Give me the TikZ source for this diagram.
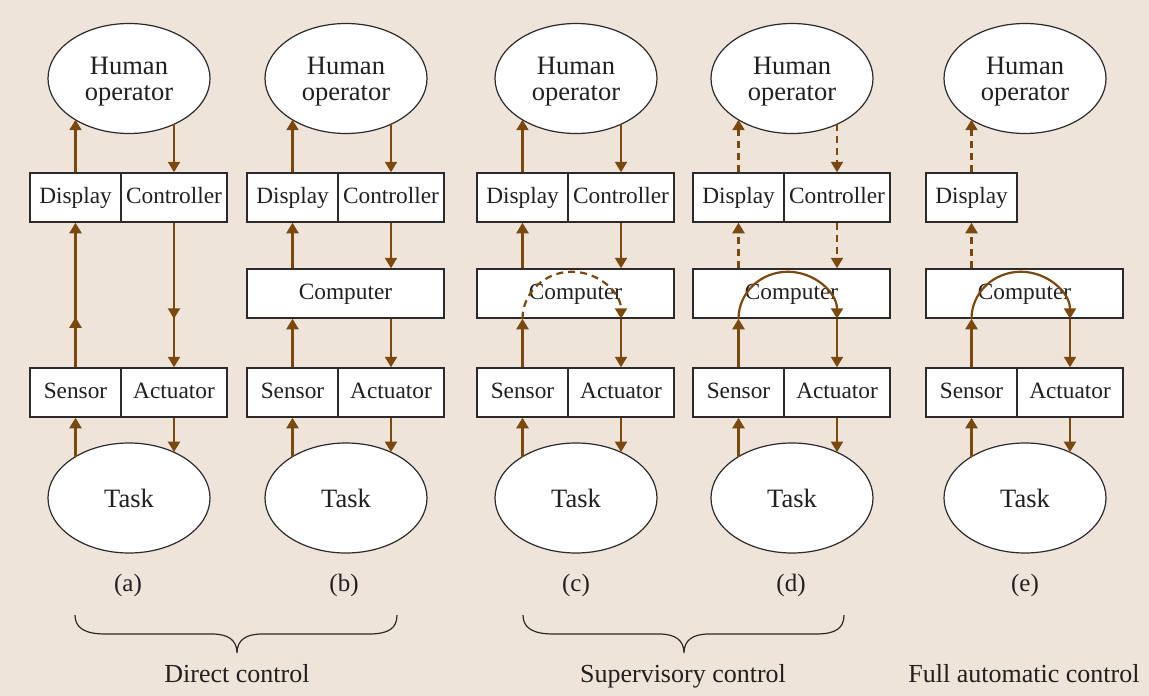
\documentclass[tikz,border=0pt]{standalone}
\usepackage{fontspec}
\setmainfont{Liberation Serif}
\usetikzlibrary{shapes.geometric,arrows.meta}
\definecolor{bg}{RGB}{238,228,217}
\definecolor{brn}{RGB}{123,72,14}
\definecolor{lgray}{RGB}{45,42,42}
\definecolor{txt}{RGB}{35,31,32}
\newcommand{\hop}{\rule{0pt}{24pt}Human\\operator}
\tikzset{
  ell/.style={ellipse, draw=lgray, line width=1.2pt, fill=white, minimum width=162pt, minimum height=110pt, inner sep=0pt, align=center, text=txt, font=\fontsize{26.5}{26}\selectfont},
  bx/.style={rectangle, draw=lgray, line width=1.5pt, fill=white, minimum height=49pt, inner sep=0pt, text height=17pt, text depth=5pt, text=txt, font=\fontsize{23.3}{26}\selectfont},
  bxs/.style={bx, minimum width=91pt},
  bxl/.style={bx, minimum width=106pt},
  bxw/.style={bx, minimum width=197pt},
  arr/.style={draw=brn, line width=2.2pt, -{Triangle[width=12pt,length=10.5pt]}},
  dsh/.style={dash pattern=on 7pt off 5pt},
  brc/.style={draw=lgray, line width=1.2pt},
  lbl/.style={text=txt, anchor=base, font=\fontsize{25}{28}\selectfont},
  captext/.style={text=txt, anchor=base, font=\fontsize{26}{28}\selectfont}
}
\begin{document}
\begin{tikzpicture}[x=1pt,y=-1pt]
\fill[bg] (0,0) rectangle (1149,696);
\useasboundingbox (0,0) rectangle (1149,696);

% ---------- column (a), L=30
\node[ell] (h1) at (129,78.5) {\hop};
\node[bxs] (d1) at (75.5,197.5) {Display};
\node[bxl] (c1) at (174,197.5) {Controller};
\node[bxs] (s1) at (75.5,392.5) {Sensor};
\node[bxl] (a1) at (174,392.5) {Actuator};
\node[ell] (t1) at (129,498) {Task};
\draw[arr] (d1.north) -- (d1.north |- h1.217);
\draw[arr] (c1.north |- h1.315) -- (c1.north);
\draw[arr] (s1.north) -- (d1.south);
\draw[arr] (s1.north) -- ++(0,-50);
\draw[arr] (c1.south) -- (a1.north);
\draw[arr] (c1.south) -- ++(0,96);
\draw[arr] (s1.south |- t1.143) -- (s1.south);
\draw[arr] (a1.south) -- (a1.south |- t1.45);
\node[lbl] (la) at (128,591) {(a)};

% ---------- column (b), L=247
\node[ell] (h2) at (346,78.5) {\hop};
\node[bxs] (d2) at (292.5,197.5) {Display};
\node[bxl] (c2) at (391,197.5) {Controller};
\node[bxw] (p2) at (345.5,293.5) {Computer};
\node[bxs] (s2) at (292.5,392.5) {Sensor};
\node[bxl] (a2) at (391,392.5) {Actuator};
\node[ell] (t2) at (346,498) {Task};
\draw[arr] (d2.north) -- (d2.north |- h2.217);
\draw[arr] (c2.north |- h2.315) -- (c2.north);
\draw[arr] (d2.south |- p2.north) -- (d2.south);
\draw[arr] (c2.south) -- (c2.south |- p2.north);
\draw[arr] (s2.north) -- (s2.north |- p2.south);
\draw[arr] (a2.north |- p2.south) -- (a2.north);
\draw[arr] (s2.south |- t2.143) -- (s2.south);
\draw[arr] (a2.south) -- (a2.south |- t2.45);
\node[lbl] (lb) at (344,591) {(b)};

% ---------- column (c), L=477
\node[ell] (h3) at (576,78.5) {\hop};
\node[bxs] (d3) at (522.5,197.5) {Display};
\node[bxl] (c3) at (621,197.5) {Controller};
\node[bxw] (p3) at (575.5,293.5) {Computer};
\node[bxs] (s3) at (522.5,392.5) {Sensor};
\node[bxl] (a3) at (621,392.5) {Actuator};
\node[ell] (t3) at (576,498) {Task};
\draw[arr] (d3.north) -- (d3.north |- h3.217);
\draw[arr] (c3.north |- h3.315) -- (c3.north);
\draw[arr] (d3.south |- p3.north) -- (d3.south);
\draw[arr] (c3.south) -- (c3.south |- p3.north);
\draw[arr] (s3.north) -- (s3.north |- p3.south);
\draw[arr] (a3.north |- p3.south) -- (a3.north);
\draw[arr] (s3.south |- t3.143) -- (s3.south);
\draw[arr] (a3.south) -- (a3.south |- t3.45);
\draw[arr,dsh] (s3.north |- p3.south) arc[start angle=180, end angle=0, x radius=49.25pt, y radius=47pt];
\node[lbl] (lc) at (576,591) {(c)};

% ---------- column (d), L=693
\node[ell] (h4) at (792,78.5) {\hop};
\node[bxs] (d4) at (738.5,197.5) {Display};
\node[bxl] (c4) at (837,197.5) {Controller};
\node[bxw] (p4) at (791.5,293.5) {Computer};
\node[bxs] (s4) at (738.5,392.5) {Sensor};
\node[bxl] (a4) at (837,392.5) {Actuator};
\node[ell] (t4) at (792,498) {Task};
\draw[arr,dsh] (d4.north) -- (d4.north |- h4.217);
\draw[arr,dsh] (c4.north |- h4.315) -- (c4.north);
\draw[arr,dsh] (d4.south |- p4.north) -- (d4.south);
\draw[arr,dsh] (c4.south) -- (c4.south |- p4.north);
\draw[arr] (s4.north) -- (s4.north |- p4.south);
\draw[arr] (a4.north |- p4.south) -- (a4.north);
\draw[arr] (s4.south |- t4.143) -- (s4.south);
\draw[arr] (a4.south) -- (a4.south |- t4.45);
\draw[arr] (s4.north |- p4.south) arc[start angle=180, end angle=0, x radius=49.25pt, y radius=47pt];
\node[lbl] (ld) at (791,591) {(d)};

% ---------- column (e), L=926
\node[ell] (h5) at (1025,78.5) {\hop};
\node[bxs] (d5) at (971.5,197.5) {Display};
\node[bxw] (p5) at (1024.5,293.5) {Computer};
\node[bxs] (s5) at (971.5,392.5) {Sensor};
\node[bxl] (a5) at (1070,392.5) {Actuator};
\node[ell] (t5) at (1025,498) {Task};
\draw[arr,dsh] (d5.north) -- (d5.north |- h5.217);
\draw[arr,dsh] (d5.south |- p5.north) -- (d5.south);
\draw[arr] (s5.north) -- (s5.north |- p5.south);
\draw[arr] (a5.north |- p5.south) -- (a5.north);
\draw[arr] (s5.south |- t5.143) -- (s5.south);
\draw[arr] (a5.south) -- (a5.south |- t5.45);
\draw[arr] (s5.north |- p5.south) arc[start angle=180, end angle=0, x radius=49.25pt, y radius=47pt];
\node[lbl] (le) at (1025,591) {(e)};

% ---------- braces and captions
\draw[brc] (75,615) .. controls (75,628) and (85,634) .. (105,634) -- (212,634)
  .. controls (228,634) and (237,640) .. (237,653)
  .. controls (237,640) and (246,634) .. (262,634) -- (369,634)
  .. controls (389,634) and (397,628) .. (397,615);
\draw[brc] (523,615) .. controls (523,628) and (533,634) .. (553,634) -- (659,634)
  .. controls (675,634) and (684,640) .. (684,653)
  .. controls (684,640) and (693,634) .. (709,634) -- (816,634)
  .. controls (836,634) and (844,628) .. (844,615);
\node[captext] (cd) at (237,682) {Direct control};
\node[captext] (cs) at (683,682) {Supervisory control};
\node[captext] (cf) at (1024,682) {Full automatic control};
\end{tikzpicture}
\end{document}
